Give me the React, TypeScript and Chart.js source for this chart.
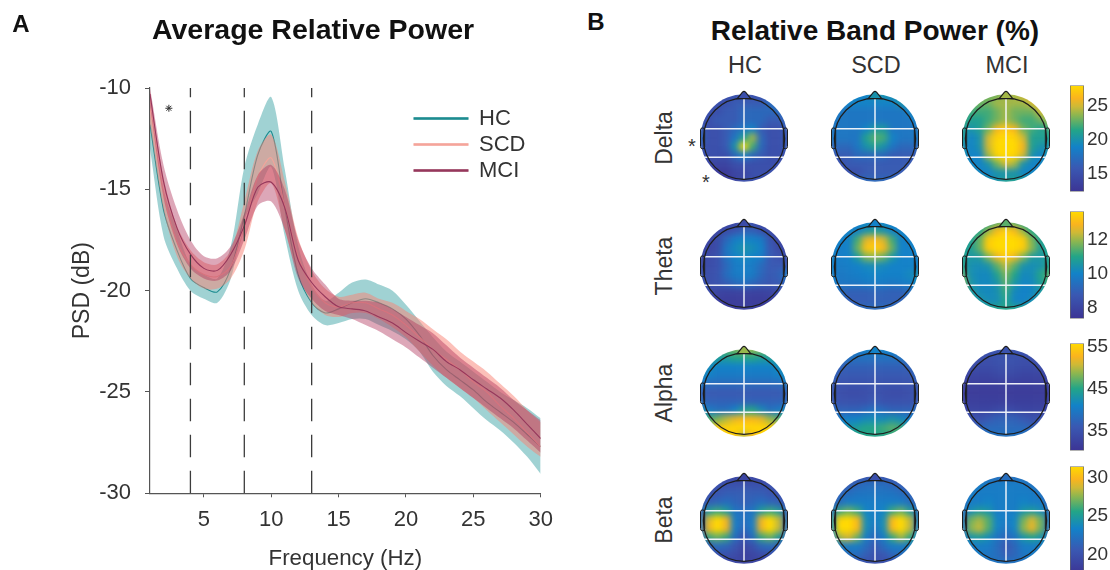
import React, { useEffect, useRef } from "react";
import { Chart, registerables } from "chart.js";

Chart.register(...registerables);

const FONT = '"Liberation Sans", Arial, sans-serif';
const INK = "#333333";

// ---------- Panel A ----------
const freqs = [1,2,3,4,5,6,7,8,9,10,11,12,13,14,15,16,17,18,19,20,21,22,23,24,25,26,27,28,29,30];
const hcMean = [-11.8,-16,-18,-19.4,-19.85,-20.06,-18.9,-16.3,-13.3,-12.15,-15.9,-19.2,-20.6,-21.1,-20.9,-20.6,-20.4,-20.6,-20.9,-21.4,-22.2,-23.2,-23.9,-24.4,-24.9,-25.5,-26,-26.5,-27.1,-27.7];
const hcUpper = [-10.8,-15,-17,-18.7,-19.2,-19.4,-17.8,-13.9,-11.8,-10.45,-14,-17.8,-19.7,-20.5,-20.1,-19.6,-19.45,-19.7,-20,-20.7,-21.5,-22.3,-23,-23.5,-24,-24.5,-25,-25.4,-25.8,-26.3];
const hcLower = [-13,-17.3,-18.9,-20,-20.4,-20.6,-19.4,-16.5,-15.2,-13.9,-17.3,-20,-21.2,-21.7,-21.6,-21.4,-21.4,-21.7,-22,-22.4,-23,-24,-24.7,-25.2,-25.8,-26.4,-26.9,-27.5,-28.2,-29.05];
const scdMean = [-11,-15.2,-17.6,-18.7,-19.2,-19.3,-18.8,-16.9,-14.4,-13.45,-15.8,-18.3,-19.8,-20.6,-20.8,-20.6,-20.6,-20.9,-21.2,-21.7,-22.3,-22.9,-23.4,-23.9,-24.5,-25,-25.7,-26.3,-27,-27.7];
const scdUpper = [-10.2,-14.4,-16.8,-18,-18.6,-18.7,-18,-15.6,-13.1,-12.3,-14.6,-17.4,-19,-19.9,-20.3,-20.2,-20.1,-20.4,-20.6,-21,-21.4,-21.9,-22.4,-23,-23.5,-24,-24.6,-25.2,-25.9,-26.5];
const scdLower = [-11.8,-16,-18.3,-19.4,-19.9,-19.9,-19.4,-18,-15.6,-14.7,-17,-19.2,-20.6,-21.2,-21.3,-21.1,-21.1,-21.4,-21.8,-22.3,-23,-23.7,-24.3,-24.8,-25.3,-25.9,-26.5,-27.1,-27.7,-28.2];
const mciMean = [-10.3,-14.6,-16.9,-18.2,-18.9,-19,-18.2,-16.8,-14.9,-14.65,-15.9,-18.5,-19.6,-20.3,-20.8,-20.9,-21,-21.3,-21.6,-22.07,-22.5,-22.9,-23.5,-23.9,-24.4,-24.85,-25.3,-25.9,-26.6,-27.3];
const mciUpper = [-10,-13.8,-16,-17.5,-18.3,-18.4,-17.8,-16.2,-14.3,-13.8,-15,-17.5,-18.9,-19.7,-20.4,-20.5,-20.5,-20.6,-20.9,-21.3,-21.7,-22.1,-22.7,-23.3,-23.8,-24.3,-24.8,-25.4,-25.9,-26.4];
const mciLower = [-10.9,-15.4,-17.7,-18.9,-19.4,-19.5,-19,-17.5,-15.8,-15.6,-17,-19.4,-20.4,-21,-21.2,-21.4,-21.7,-22,-22.4,-22.8,-23.3,-23.8,-24.3,-24.8,-25.3,-25.8,-26.3,-26.8,-27.4,-28];
const bandEdges = [4, 8, 13];
const xTicks = [5, 10, 15, 20, 25, 30];
const yTicks = [-30, -25, -20, -15, -10];

// ---------- Panel B: scalp maps, 11 rows front to back, 11 columns left to right ----------
const deltaHC = [
  [15,15,15,15,15,15,15,15,16,17,17],[15,15,15,15,16,16,16,16,17,18,18],[15,15,15,16,16,17,17,17,17,17,18],
  [15,15,16,16,16,17,17,17,16,16,17],[16,15,15,16,17,18,19,16,15,15,16],[17,15,15,16,18,21,24,17,15,15,16],
  [16,15,15,16,20,28,22,17,15,15,16],[15,15,15,15,17,19,17,16,15,15,15],[14,14,14,14,15,15,15,15,15,15,15],
  [14,13,13,13,14,14,15,15,15,15,15],[14,14,13,13,14,15,15,15,15,15,15]];
const deltaSCD = [
  [19,19,19,19,19,20,20,20,20,20,20],[19,19,19,19,19,19,19,19,20,20,21],[19,18,18,18,18,18,18,18,18,19,20],
  [18,18,18,18,18,18,18,18,18,18,19],[18,18,18,18,19,20.5,20.5,18,18,18,18],[18,18,18,18,21,22.5,22,19,18,18,18],
  [17,17,17,18,20,21,20,18,17,17,17],[16,16,16,17,17,17,17,16,16,16,16],[15,15,16,16,16,16,16,16,16,16,15],
  [16,15,15,15,16,16,16,16,16,16,16],[18,18,17,17,17,17,17,17,17,17,18]];
const deltaMCI = [
  [23,23,23,23,23,24,24,25,26,26,26],[23,23,23,23,24,24,24,24,25,26,26],[22,22,22,22,23,24,23,23,23,25,25],
  [22,21,21,22,23,24,23,22,22,23,24],[21,20,21,23,26,27,26,23,22,21,22],[21,19,20,25,27.5,28,27.5,25,21,21,21],
  [20,19,20,25,28,28,28,26,21,20,20],[20,19,19,24,27.5,28,27.5,25,20,19,20],[20,19,19,20,23,25,24,20,19,19,20],
  [21,20,19,19,20,20,20,19,19,19,21],[22,21,21,20,20,21,21,21,21,21,22]];
const thetaHC = [
  [8,8,8,8,8,8.3,8.3,8,8,8,8],[8,8,8,8.3,8.6,9,9,8.5,8.2,8,8],[8,8,8.3,9.2,9.9,10.1,10,9.8,8.6,8.1,8],
  [8,8,8.3,9.6,10.2,10.5,10.3,10,8.8,8.2,8],[8,8.2,8.5,9.5,10,10.2,10,9.8,8.8,8.5,8.3],[8.2,8.3,8.5,9.2,9.8,9.9,9.8,9.3,8.8,8.8,8.8],
  [8.5,8.4,8.6,9.4,9.8,9.9,9.8,9.2,8.8,9,9.8],[8.5,8.4,8.6,8.9,9.3,9.5,9.2,8.9,8.7,8.8,9.2],[8.8,8.2,8,7.9,7.9,7.9,7.9,7.9,8,8.2,8.8],
  [8.5,8,7.8,7.7,7.7,7.7,7.7,7.7,7.8,8,8.5],[8,8,7.8,7.8,7.7,7.8,7.8,7.8,7.8,8,8]];
const thetaSCD = [
  [10,10,10,10,10,10,10,10,10,10,10],[10,10,10,10,10.5,10.8,10.5,10,10,10,10],[10,10,10,11.3,12.6,13,12.5,11.3,10,10,10],
  [10,9.9,10,11.6,13.2,13.5,13,11.6,10,10,10],[10,9.9,10,10.7,11.8,12,11.6,10.6,10,10,10],[10,9.8,9.9,10,10.2,10.3,10.2,10,10,10,10],
  [10,9.7,9.8,9.9,10,10.1,10,10,10,10.2,10.4],[10,9.6,9.7,9.7,9.8,9.8,9.8,9.7,9.8,9.9,10.2],[10,9.3,9,9,9,9.1,9.1,9,9,9.3,10],
  [10,9.5,8.9,8.9,8.9,9,9,9,9,9.5,10],[10,10,9.6,9.3,9.3,9.3,9.3,9.3,9.6,10,10]];
const thetaMCI = [
  [11,11,11,11,11.5,11.5,11.5,11,11,11,11],[11,11,11,12,13,13.5,13,12,11,11,11],[11,10.8,11.6,13.4,13.7,13.7,13.7,13.4,11.8,10.8,11],
  [11,10.8,11.6,13.4,13.7,13.7,13.7,13.4,11.9,10.8,11],[11,10.6,10.7,11.8,12.8,13.4,12.8,11.8,10.7,10.6,11],[11,10.4,10.3,10.5,11.5,12.3,11.5,10.5,10.3,10.5,11],
  [11.5,10.4,10.2,10.2,10.9,11.8,11,10.2,10.3,11,11.5],[12,10.6,10.2,10.2,10.5,11.5,10.6,10.1,10.2,10.8,11.3],[11.8,10.7,10.3,10.2,10.4,11.2,10.2,10,10.1,10.6,11],
  [11.2,11,10.6,10.3,10.3,11,10.1,10,10.3,10.8,11],[11,11,11,11,11,11,11,11,11,11,11]];
const alphaHC = [
  [45,45,46,47,48,49,49,48,47,45,45],[44,44,44,44,45,45,45,44,44,44,44],[43,42,41,41,41,41,41,41,41,42,43],
  [42,41,40,40,40,40,40,40,40,41,42],[40,38,38,38,38,38,38,38,38,38,40],[37,36,36,36,36,36,36,36,36,36,37],
  [38,37,37,37,37,37,37,37,37,37,38],[43,40,39,39,41,44,45,42,39,40,42],[46,46,48,50,52,53,53,52,49,47,46],
  [48,51,54,55,55.5,55.5,55.5,55.5,55,52,48],[50,53,55,55,54,50,53,55,55,53,50]];
const alphaSCD = [
  [40,40,40,40,41,41,41,41,40,40,40],[40,39,39,39,39,39,39,39,39,39,40],[39,37,37,37,37,37,37,37,37,37,39],
  [38,36,36,36,36,36,36,36,36,36,38],[36,35,35,35,35,35,35,35,35,35,36],[36,34.5,34,34,34.5,35,34.5,34,34,34.5,36],
  [36,35,35,35,35,36,35,35,35,35,36],[39,37,37,37,38,39,38,37,37,37,39],[41,40,41,41,42,42,42,43,42,40,41],
  [42,41,43,44,45,45,46,47,46,42,42],[44,44,45,45,45,45,45,45,45,44,44]];
const alphaMCI = [
  [35,35,35,35,35,35,35,35,35,35,35],[35,34.5,34.5,34.5,35,35,35,34.5,34.5,34.5,35],[34,34,34,34,34.5,34.5,34.5,34,34,34,34],
  [33,33,33,33,33.5,33.5,33.5,33,33,33,33],[32.5,32,32,32,32,32,32,32,32,32,32.5],[32,31.5,31.5,31.5,31.5,31.5,31.5,31.5,31.5,31.5,32],
  [32.5,32,32,32,32,32,32,32,32,32,32.5],[33,33,33,33,33.5,34,33.5,33,33,33,33],[35,35,35,36,37,37,37,36,35,35,35],
  [36,36,37,38,38,38,38,38,37,36,36],[38,38,39,39,39,39,39,39,39,38,38]];
const betaHC = [
  [19,19,19,19,19,19,19,19,19,19,19],[19,19.5,20,20,20,20,20,20,20,19.5,19],[19,20,20.5,21,21,21,21,21,20.5,20,19],
  [20,21,21.5,22,21.5,21,21.5,22,21.5,21,20],[21,25,26,25,22.5,22,22.5,25,26,25,21],[22,29,31.4,29.5,23,22,23,29.5,31.4,28.5,22],
  [22,29.5,31.4,29.5,23,21.5,23,29.5,31.4,28.5,22],[21,26,27,26,22,20,22,26,27,25,21],[20,21,22,21.5,20.5,19,20,21.5,22,21,20],
  [19,19.5,20,20,19.5,18.5,19,19.5,20,19.5,19],[18.5,18.5,18.5,19,19,19,19,19,18.5,18.5,18.5]];
const betaSCD = [
  [20,20,20,20,20,20,20,20,20,20,20],[20,20.5,21,21.5,22,22,22,21.5,21,20.5,20],[20,21.5,22,22.5,22.5,22.5,22.5,22.5,22,21.5,20],
  [21,22,23,23,23,23,23,23,23,22,21],[22,26,27,26,23.5,23,23.5,26,27,25,22],[24,31,31.4,30,24,23,24,30,31.4,28.5,23],
  [24,31.4,31.4,30,24,22.5,24,30,31.4,28.5,23],[23,28,29,27,23,21.5,23,26,28,26,23],[22,23,23,23,22,20.5,22,23,23,23,22],
  [21,22,22,22,21,20,20.5,21.5,22,22,21],[19.5,20,20,20,20,20,20,20,20,20,19.5]];
const betaMCI = [
  [22,22,22,22,22,22,22,22,21,21,21],[22,22.5,23,23,23,23,23,23,22.5,22,21],[22,23,23,23,23,23,23,23,23,22.5,21],
  [22,23,23,23.5,23,23,23,23.5,23,23,21],[22,24,25,24.5,23,23,23,24.5,25,24,22],[22,27,28,26.5,23.5,23,23.5,27,29,27,22],
  [22.5,27.5,28.5,26.5,23.5,22.5,23.5,27.5,29.5,27,22],[22,24.5,25,24,22.5,21.5,22.5,24.5,25.5,24.5,22],[22,23,23,23,22,20.5,21.5,23,23,23,22],
  [22,22.5,23,22.5,22,21,21.5,22.5,23,22.5,22],[22,22.5,22.5,22.5,22.5,22.5,22.5,22.5,22.5,22.5,22]];

const groups = ["HC", "SCD", "MCI"];
const bandNames = ["Delta", "Theta", "Alpha", "Beta"];
const bandMaps = [
  [deltaHC, deltaSCD, deltaMCI],
  [thetaHC, thetaSCD, thetaMCI],
  [alphaHC, alphaSCD, alphaMCI],
  [betaHC, betaSCD, betaMCI],
];
const bandRanges = [[12.4, 27.9], [7.36, 13.7], [30.3, 55.8], [17.6, 31.4]];
const bandTicks = [[15, 20, 25], [8, 10, 12], [35, 45, 55], [20, 25, 30]];

// ---------- Layout and colour ----------
const headX = [744, 875, 1006];
const headY = [138, 266, 393, 520];
const barTop = [85, 211, 343, 466];
const barHeight = [107, 108, 108, 108];
const colorStops: [number, number[]][] = [
  [0, [60, 52, 148]], [0.22, [58, 88, 178]], [0.42, [18, 130, 200]], [0.58, [35, 165, 135]],
  [0.72, [140, 182, 80]], [0.8, [205, 185, 55]], [0.88, [250, 180, 30]], [1, [255, 218, 0]],
];
function cmap(t: number) {
  const v = Math.min(1, Math.max(0, t));
  for (let i = 1; i < colorStops.length; i++) {
    if (v <= colorStops[i][0]) {
      const [a, ca] = colorStops[i - 1];
      const [b, cb] = colorStops[i];
      const f = (v - a) / (b - a);
      return `rgb(${ca.map((c, k) => Math.round(c + (cb[k] - c) * f)).join(",")})`;
    }
  }
  return "rgb(255,218,0)";
}

function placeBoxes() {
  return {
    id: "placeBoxes",
    afterLayout(chart: any) {
      chart.titleBlock.left = 152;
      chart.titleBlock.right = 490;
      const w = chart.legend.width;
      const h = chart.legend.height;
      chart.legend.left = 410;
      chart.legend.top = 103.5;
      chart.legend.right = 410 + w;
      chart.legend.bottom = 103.5 + h;
    },
  };
}

function makeLineChart(canvas: HTMLCanvasElement) {
  const pts = (ys: number[]) => ys.map((y, i) => ({ x: freqs[i], y }));
  const band = (label: string, upper: number[], lower: number[], color: string, order: number) => [
    { label: label + " upper", data: pts(upper), borderWidth: 0, pointRadius: 0, backgroundColor: color, fill: "+1", tension: 0.3, order },
    { label: label + " lower", data: pts(lower), borderWidth: 0, pointRadius: 0, fill: false, tension: 0.3, order },
  ];
  const mean = (label: string, ys: number[], color: string, order: number) => ({
    label, data: pts(ys), borderColor: color, backgroundColor: color, borderWidth: 1.1, pointRadius: 0, fill: false, tension: 0.3, order,
  });
  const dashes = bandEdges.map((f) => ({
    label: "edge " + f,
    data: [{ x: f, y: -30 }, { x: f, y: -10 }],
    borderColor: "#3c3c3c", borderWidth: 1.3, borderDash: [22.5, 13.5], pointRadius: 0, fill: false, order: 1,
  }));
  return new Chart(canvas, {
    type: "line",
    data: {
      datasets: [
        ...band("HC", hcUpper, hcLower, "rgba(72,168,170,0.52)", 9),
        mean("HC", hcMean, "#1c8c90", 8),
        ...band("SCD", scdUpper, scdLower, "rgba(250,130,115,0.5)", 7),
        mean("SCD", scdMean, "#f5a49a", 6),
        ...band("MCI", mciUpper, mciLower, "rgba(175,45,85,0.42)", 5),
        mean("MCI", mciMean, "#96385c", 4),
        ...dashes,
        { label: "significant", data: [{ x: 2.4, y: -11 }], showLine: false, pointStyle: "star", pointRadius: 3.5, borderColor: "#333", borderWidth: 1, order: 0 },
      ] as any,
    },
    plugins: [placeBoxes()],
    options: {
      animation: false, responsive: false, devicePixelRatio: 1,
      layout: { padding: { left: 0, right: 29.3, top: 0, bottom: 0 }, autoPadding: false },
      plugins: {
        tooltip: { enabled: false },
        title: {
          display: true, text: "Average Relative Power", align: "start", color: "#111",
          font: { family: FONT, size: 28.5, weight: "bold", lineHeight: 1.2 },
          padding: { top: 14, bottom: 39.8 },
        },
        legend: {
          position: "chartArea", align: "start",
          labels: {
            boxWidth: 54, boxHeight: 1.4, padding: 4, color: INK,
            font: { family: FONT, size: 22 },
            filter: (item: any) => groups.includes(item.text),
            sort: (a: any, b: any) => a.datasetIndex - b.datasetIndex,
          },
        },
      },
      scales: {
        x: {
          type: "linear", min: 1, max: 30,
          afterBuildTicks: (s: any) => { s.ticks = xTicks.map((value) => ({ value })); },
          afterFit: (s: any) => { s.height = 76.7; },
          border: { color: "#555", width: 1.2 },
          grid: { drawOnChartArea: false, tickLength: 4, tickColor: "#555" },
          ticks: { color: INK, font: { family: FONT, size: 22 }, padding: 9, maxRotation: 0, autoSkip: false },
          title: { display: true, text: "Frequency (Hz)", color: INK, font: { family: FONT, size: 22.3, lineHeight: 1 }, padding: 0 },
        },
        y: {
          min: -30, max: -10,
          afterBuildTicks: (s: any) => { s.ticks = yTicks.map((value) => ({ value })); },
          afterFit: (s: any) => { s.width = 150; },
          border: { color: "#555", width: 1.2 },
          grid: { drawOnChartArea: false, tickLength: 5, tickColor: "#555" },
          ticks: { color: INK, font: { family: FONT, size: 22 }, padding: 14, autoSkip: false },
          title: { display: true, text: "PSD (dB)", color: INK, font: { family: FONT, size: 23, lineHeight: 1.2 }, padding: { top: 69, bottom: 0 } },
        },
      },
    } as any,
  });
}

// Smooths the drawn cells, trims them to the scalp disc, then adds the head outline.
function scalpPlugin(noseColor: string) {
  return {
    id: "scalp",
    afterDatasetsDraw(chart: any) {
      const { ctx, canvas, scales } = chart;
      const cx = scales.x.getPixelForValue(0);
      const cy = scales.y.getPixelForValue(0);
      const k = scales.x.getPixelForValue(1) - cx;
      const off = document.createElement("canvas");
      off.width = canvas.width;
      off.height = canvas.height;
      const oc = off.getContext("2d")!;
      oc.filter = "blur(3.2px)";
      oc.drawImage(canvas, 0, 0);
      ctx.save();
      ctx.setTransform(1, 0, 0, 1, 0, 0);
      ctx.clearRect(0, 0, canvas.width, canvas.height);
      ctx.beginPath();
      ctx.arc(cx, cy, k, 0, Math.PI * 2);
      ctx.clip();
      ctx.drawImage(off, 0, 0);
      ctx.restore();

      ctx.save();
      ctx.strokeStyle = "rgba(245,248,252,0.95)";
      ctx.lineWidth = 1.5;
      ctx.beginPath();
      ctx.moveTo(cx - 0.91 * k, cy - 0.21 * k); ctx.lineTo(cx + 0.91 * k, cy - 0.21 * k);
      ctx.moveTo(cx - 0.91 * k, cy + 0.44 * k); ctx.lineTo(cx + 0.91 * k, cy + 0.44 * k);
      ctx.moveTo(cx, cy - 0.93 * k); ctx.lineTo(cx, cy + 0.95 * k);
      ctx.stroke();

      ctx.strokeStyle = "#1d1d1d";
      ctx.lineWidth = 1.2;
      ctx.beginPath();
      ctx.arc(cx, cy + 0.016 * k, 0.93 * k, 0, Math.PI * 2);
      ctx.stroke();

      ctx.beginPath();
      ctx.moveTo(cx - 0.155 * k, cy - 0.9 * k);
      ctx.lineTo(cx - 0.035 * k, cy - 1.05 * k);
      ctx.quadraticCurveTo(cx, cy - 1.08 * k, cx + 0.035 * k, cy - 1.05 * k);
      ctx.lineTo(cx + 0.155 * k, cy - 0.9 * k);
      ctx.closePath();
      ctx.fillStyle = noseColor;
      ctx.fill();
      ctx.stroke();

      ctx.lineWidth = 1;
      for (const side of [-1, 1]) {
        const x0 = side < 0 ? cx - 0.995 * k : cx + 0.9 * k;
        ctx.beginPath();
        ctx.roundRect(x0, cy - 0.23 * k, 0.095 * k, 0.475 * k, 2);
        ctx.stroke();
      }
      ctx.restore();
    },
  };
}

function makeHead(canvas: HTMLCanvasElement, rows: number[][], range: number[]) {
  const [lo, hi] = range;
  const color = (v: number) => cmap((v - lo) / (hi - lo));
  const n = rows.length;
  const cells = rows.flatMap((row, r) =>
    row.map((v, c) => ({ x: -1 + (2 * c) / (n - 1), y: 1 - (2 * r) / (n - 1), v })),
  );
  return new Chart(canvas, {
    type: "scatter",
    data: {
      datasets: [{
        data: cells,
        pointStyle: "rect",
        pointRadius: 6.6,
        borderWidth: 0,
        pointBorderWidth: 0,
        backgroundColor: (ctx: any) => (ctx.raw ? color(ctx.raw.v) : "#000"),
        clip: false,
      }] as any,
    },
    plugins: [scalpPlugin(color(rows[0][5]))],
    options: {
      animation: false, responsive: false, devicePixelRatio: 1,
      layout: { padding: 0, autoPadding: false },
      plugins: { legend: { display: false }, tooltip: { enabled: false }, title: { display: false } },
      scales: {
        x: { type: "linear", display: false, min: -1.144, max: 1.144 },
        y: { type: "linear", display: false, min: -1.144, max: 1.144 },
      },
    } as any,
  });
}

function makeColorbar(canvas: HTMLCanvasElement, range: number[], ticks: number[]) {
  return new Chart(canvas, {
    type: "bar",
    data: {
      labels: [""],
      datasets: [{
        data: [[range[0], range[1]]],
        barPercentage: 1,
        categoryPercentage: 1,
        borderWidth: 1,
        borderColor: "#666",
        borderSkipped: false,
        backgroundColor: (ctx: any) => {
          const area = ctx.chart.chartArea;
          if (!area) return "#888";
          const g = ctx.chart.ctx.createLinearGradient(0, area.bottom, 0, area.top);
          colorStops.forEach(([t]) => g.addColorStop(t, cmap(t)));
          return g;
        },
      }] as any,
    },
    options: {
      animation: false, responsive: false, devicePixelRatio: 1,
      layout: { padding: { top: 14, bottom: 14, left: 0, right: 0 } },
      plugins: { legend: { display: false }, tooltip: { enabled: false } },
      scales: {
        x: { display: false },
        y: {
          position: "right", min: range[0], max: range[1],
          afterBuildTicks: (s: any) => { s.ticks = ticks.map((value) => ({ value })); },
          afterFit: (s: any) => { s.width = 26; },
          border: { display: false },
          grid: { display: false, drawTicks: false },
          ticks: { color: INK, font: { family: FONT, size: 19 }, padding: 3, autoSkip: false },
        },
      },
    } as any,
  });
}

function Label(p: { x: number; y: number; text: string; size: number; bold?: boolean; rotate?: boolean; color?: string }) {
  return (
    <div style={{
      position: "absolute", left: p.x, top: p.y, whiteSpace: "nowrap", lineHeight: 1,
      transform: `translate(-50%,-50%)${p.rotate ? " rotate(-90deg)" : ""}`,
      fontFamily: FONT, fontSize: p.size, fontWeight: p.bold ? 700 : 400, color: p.color || INK,
    }}>{p.text}</div>
  );
}

export default function App() {
  const lineRef = useRef<HTMLCanvasElement | null>(null);
  const headRefs = useRef<(HTMLCanvasElement | null)[]>([]);
  const barRefs = useRef<(HTMLCanvasElement | null)[]>([]);

  useEffect(() => {
    const charts: Chart[] = [];
    if (lineRef.current) charts.push(makeLineChart(lineRef.current));
    bandMaps.forEach((maps, b) => {
      maps.forEach((rows, g) => {
        const c = headRefs.current[b * 3 + g];
        if (c) charts.push(makeHead(c, rows, bandRanges[b]));
      });
      const bar = barRefs.current[b];
      if (bar) charts.push(makeColorbar(bar, bandRanges[b], bandTicks[b]));
    });
    return () => charts.forEach((c) => c.destroy());
  }, []);

  return (
    <div style={{ position: "fixed", left: 0, top: 0, width: 1110, height: 570, overflow: "hidden", background: "#fff" }}>
      <canvas ref={lineRef} width={570} height={570} style={{ position: "absolute", left: 0, top: 0 }} />
      <Label x={21} y={24} text="A" size={24} bold color="#111" />
      <Label x={596} y={22} text="B" size={24} bold color="#111" />
      <Label x={875} y={31} text="Relative Band Power (%)" size={28} bold color="#111" />
      {groups.map((g, i) => <Label key={g} x={headX[i] + 1} y={66} text={g} size={23.5} />)}
      {bandNames.map((b, i) => <Label key={b} x={664} y={headY[i]} text={b} size={23} rotate />)}
      <Label x={692} y={146} text="*" size={20} />
      <Label x={706} y={182} text="*" size={20} />
      {bandMaps.map((maps, b) => maps.map((_, g) => (
        <canvas
          key={`${b}-${g}`}
          ref={(el) => { headRefs.current[b * 3 + g] = el; }}
          width={100} height={100}
          style={{ position: "absolute", left: headX[g] - 50, top: headY[b] - 50 }}
        />
      )))}
      {bandNames.map((b, i) => (
        <canvas
          key={b}
          ref={(el) => { barRefs.current[i] = el; }}
          width={40} height={barHeight[i] + 28}
          style={{ position: "absolute", left: 1070, top: barTop[i] - 14 }}
        />
      ))}
    </div>
  );
}
